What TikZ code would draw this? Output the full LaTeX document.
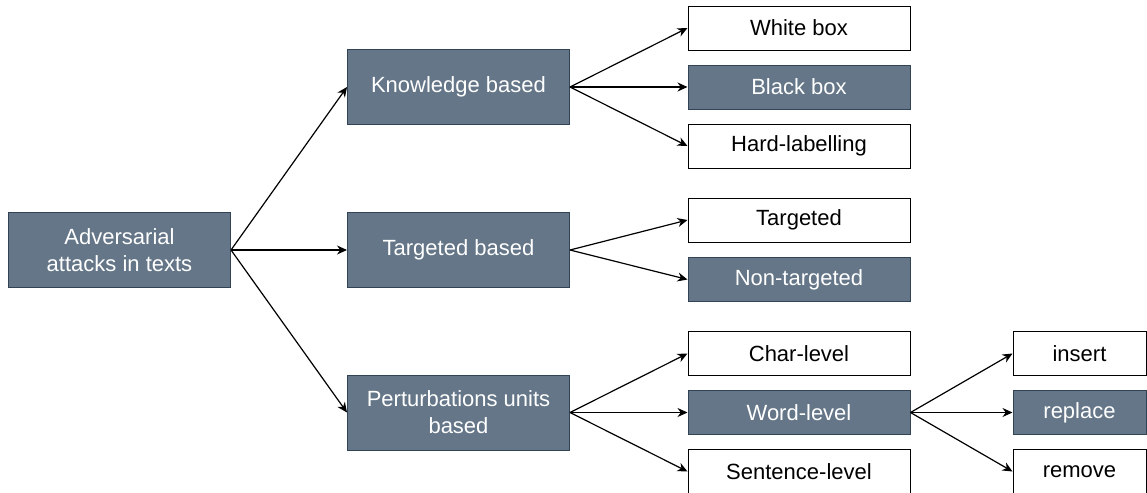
\documentclass[tikz,border=0pt]{standalone}
\usepackage{fontspec}
\setmainfont{Liberation Sans}
\usetikzlibrary{arrows.meta}
\definecolor{slatefill}{HTML}{647687}
\definecolor{slatedraw}{HTML}{314354}

\begin{document}
\begin{tikzpicture}[x=0.5pt,y=-0.5pt,
  darkbox/.style={draw=slatedraw,fill=slatefill,text=white,line width=0.5pt,
    inner sep=0pt,align=center,font=\fontsize{11}{13.5}\selectfont},
  lightbox/.style={darkbox,draw=black,fill=white,text=black},
  bigbox/.style={minimum width=111pt,minimum height=37.5pt},
  leafbox/.style={minimum width=111pt,minimum height=22pt},
  opbox/.style={minimum width=66.5pt,minimum height=22pt},
  link/.style={-{Stealth[length=5pt,width=4.5pt]},line width=0.6pt}]
  \useasboundingbox (0,0) rectangle (1147,493);

  % Draw the root
  \node[darkbox,bigbox] (attacks) at (119.5,250) {Adversarial\\attacks in texts};

  % Draw the three criteria
  \node[darkbox,bigbox] (knowledge) at (458.5,87) {Knowledge based};
  \node[darkbox,bigbox] (targetbased) at (458.5,250) {Targeted based};
  \node[darkbox,bigbox] (units) at (458.5,412.5) {Perturbations units\\based};

  % Draw the leaves
  \node[lightbox,leafbox] (whitebox) at (799,28) {White box};
  \node[darkbox,leafbox] (blackbox) at (799,87) {Black box};
  \node[lightbox,leafbox] (hardlabel) at (799,146) {Hard-labelling};
  \node[lightbox,leafbox] (targeted) at (799,220) {Targeted};
  \node[darkbox,leafbox] (nontargeted) at (799,279.5) {Non-targeted};
  \node[lightbox,leafbox] (charlevel) at (799,353.5) {Char-level};
  \node[darkbox,leafbox] (wordlevel) at (799,412.5) {Word-level};
  \node[lightbox,leafbox] (sentlevel) at (799,471.5) {Sentence-level};

  % Draw the word operations
  \node[lightbox,opbox] (insert) at (1079.5,353.5) {insert};
  \node[darkbox,opbox] (replace) at (1079.5,412.5) {replace};
  \node[lightbox,opbox] (remove) at (1079.5,471.5) {remove};

  % Draw the arrows from the root
  \draw[link] (attacks.east) -- (knowledge.west);
  \draw[link] (attacks.east) -- (targetbased.west);
  \draw[link] (attacks.east) -- (units.west);

  % Draw the arrows to the leaves
  \draw[link] (knowledge.east) -- (whitebox.west);
  \draw[link] (knowledge.east) -- (blackbox.west);
  \draw[link] (knowledge.east) -- (hardlabel.west);
  \draw[link] (targetbased.east) -- (targeted.west);
  \draw[link] (targetbased.east) -- (nontargeted.west);
  \draw[link] (units.east) -- (charlevel.west);
  \draw[link] (units.east) -- (wordlevel.west);
  \draw[link] (units.east) -- (sentlevel.west);

  % Draw the arrows to the operations
  \draw[link] (wordlevel.east) -- (insert.west);
  \draw[link] (wordlevel.east) -- (replace.west);
  \draw[link] (wordlevel.east) -- (remove.west);
\end{tikzpicture}
\end{document}
